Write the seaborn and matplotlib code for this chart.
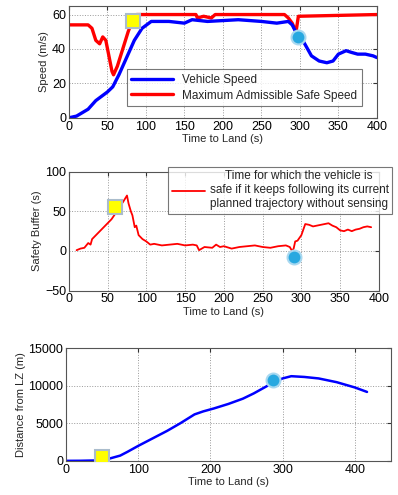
import matplotlib
matplotlib.use("Agg")
import matplotlib.pyplot as plt
import seaborn as sns
import pandas as pd

# ---- Data ----
t_speed = [0, 10, 25, 35, 50, 57, 65, 75, 85, 95, 107, 130, 150, 160, 180, 200, 220, 250, 270, 285, 290, 298, 305, 315, 325, 335, 343, 350, 360, 367, 375, 385, 395, 400]
v_speed = [0, 1, 5, 10, 15, 18, 25, 35, 45, 52, 56, 56, 55, 57, 56, 56.5, 57, 56, 55, 56, 54, 47, 44, 36, 33, 32, 33, 37, 39, 38, 37, 37, 36, 35]
t_safe = [0, 25, 30, 35, 40, 44, 48, 52, 56, 58, 63, 70, 77, 83, 88, 165, 167, 175, 185, 190, 280, 285, 290, 295, 298, 400]
v_safe = [54, 54, 52, 45, 43, 47, 45, 36, 27, 25, 30, 40, 50, 57, 60, 60, 58, 59, 58, 60, 60, 58, 55, 50, 59, 60]

t_buf = [10, 15, 20, 25, 28, 30, 35, 45, 55, 62, 65, 70, 75, 77, 80, 82, 85, 87, 90, 95, 100, 105, 110, 120, 130, 140, 150, 160, 165, 168, 175, 185, 190, 195, 200, 210, 220, 230, 240, 250, 260, 270, 280, 285, 288, 290, 292, 295, 300, 305, 310, 315, 320, 330, 335, 340, 345, 350, 355, 360, 365, 370, 375, 380, 385, 390]
v_buf = [1, 3, 4, 10, 8, 15, 20, 30, 40, 50, 55, 62, 70, 60, 50, 45, 30, 32, 20, 15, 12, 8, 9, 7, 8, 9, 7, 8, 7, 1, 5, 4, 8, 5, 6, 3, 5, 6, 7, 5, 4, 6, 7, 5, 0, 3, 12, 13, 20, 34, 33, 31, 32, 34, 35, 32, 30, 26, 25, 27, 25, 27, 28, 30, 31, 30]

t_dist = [0, 20, 40, 50, 60, 75, 85, 100, 120, 140, 158, 178, 190, 205, 225, 245, 260, 275, 288, 300, 312, 330, 350, 375, 400, 417]
v_dist = [0, 10, 50, 100, 300, 700, 1200, 2000, 3000, 4000, 5000, 6200, 6600, 7000, 7600, 8300, 9000, 9800, 10500, 11000, 11300, 11200, 11000, 10500, 9800, 9200]

sq1 = (83, 56.5); ci1 = (298, 47)
sq2 = (60, 55); ci2 = (290, -8)
sq3 = (50, 500); ci3 = (287, 10800)

sns.set_style("white")
plt.rcParams['font.family'] = ['Liberation Sans', 'DejaVu Sans']
plt.rcParams['font.size'] = 8

fig = plt.figure(figsize=(3.98, 4.95), dpi=100)
ax1 = fig.add_axes([0.173, 0.762, 0.774, 0.226])
ax2 = fig.add_axes([0.173, 0.413, 0.779, 0.240])
ax3 = fig.add_axes([0.166, 0.069, 0.816, 0.227])

def style(ax):
    ax.grid(True, linestyle=':', color='#999999', linewidth=0.7)
    for s in ax.spines.values():
        s.set_color('#555555'); s.set_linewidth(0.8)
    ax.tick_params(direction='in', length=3, top=True, right=True, labelsize=9, pad=2, colors='#333333')
    for lab in ax.get_xticklabels() + ax.get_yticklabels():
        lab.set_color('black')

def markers(ax, sq, ci):
    ax.plot([sq[0]], [sq[1]], marker='s', markersize=10, markerfacecolor='#ffff00',
            markeredgecolor='#aabccc', markeredgewidth=1.5, zorder=5)
    ax.plot([ci[0]], [ci[1]], marker='o', markersize=10, markerfacecolor='#28a8e0',
            markeredgecolor='#a8d8f0', markeredgewidth=1.5, zorder=5)

# Top
df1 = pd.DataFrame({'t': t_speed, 'v': v_speed})
df1b = pd.DataFrame({'t': t_safe, 'v': v_safe})
sns.lineplot(data=df1b, x='t', y='v', ax=ax1, color='#ff0000', linewidth=2.4, label='Maximum Admissible Safe Speed')
sns.lineplot(data=df1, x='t', y='v', ax=ax1, color='#0000ff', linewidth=2.4, label='Vehicle Speed')
markers(ax1, sq1, ci1)
ax1.set_xlim(0, 400); ax1.set_ylim(0, 65)
ax1.set_yticks([0, 20, 40, 60]); ax1.set_xticks(range(0, 401, 50))
ax1.set_xlabel('Time to Land (s)', labelpad=1); ax1.set_ylabel('Speed (m/s)', labelpad=2)
h, l = ax1.get_legend_handles_labels()
leg = ax1.legend(h[::-1], l[::-1], loc='lower right', bbox_to_anchor=(0.97, 0.05), fontsize=8.5,
                 frameon=True, fancybox=False, edgecolor='#555555', handlelength=3.5, borderpad=0.4,
                 labelspacing=0.3)
leg.get_frame().set_linewidth(0.8)
style(ax1)

# Middle
df2 = pd.DataFrame({'t': t_buf, 'v': v_buf})
sns.lineplot(data=df2, x='t', y='v', ax=ax2, color='#ff0000', linewidth=1.3,
             label='Time for which the vehicle is\nsafe if it keeps following its current\nplanned trajectory without sensing')
markers(ax2, sq2, ci2)
ax2.set_xlim(0, 400); ax2.set_ylim(-50, 100)
ax2.set_yticks([-50, 0, 50, 100]); ax2.set_xticks(range(0, 401, 50))
ax2.set_xlabel('Time to Land (s)', labelpad=1); ax2.set_ylabel('Safety Buffer (s)', labelpad=2)
leg2 = ax2.legend(loc='upper right', bbox_to_anchor=(398/398, 1 - 161/495), bbox_transform=fig.transFigure,
                  fontsize=8.5, frameon=True, fancybox=False, edgecolor='#555555', handlelength=2.8,
                  borderpad=0.3, handletextpad=0.4)
leg2.get_frame().set_linewidth(0.8)
for txt in leg2.get_texts():
    txt.set_multialignment('center')
style(ax2)

# Bottom
df3 = pd.DataFrame({'t': t_dist, 'v': v_dist})
sns.lineplot(data=df3, x='t', y='v', ax=ax3, color='#0000ff', linewidth=1.8)
markers(ax3, sq3, ci3)
ax3.set_xlim(0, 450); ax3.set_ylim(0, 15000)
ax3.set_yticks([0, 5000, 10000, 15000]); ax3.set_xticks([0, 100, 200, 300, 400])
ax3.set_xlabel('Time to Land (s)', labelpad=1); ax3.set_ylabel('Distance from LZ (m)', labelpad=2)
style(ax3)

fig.savefig('out.png', dpi=100)
